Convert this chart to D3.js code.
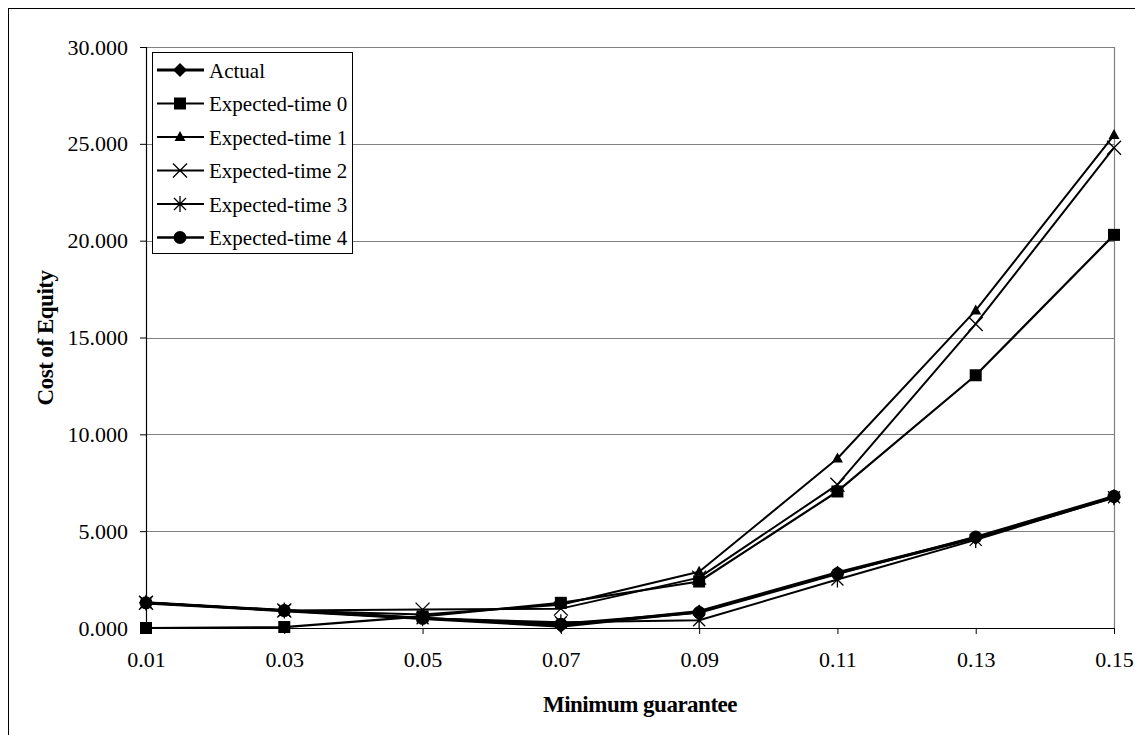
<!DOCTYPE html>
<html>
<head>
<meta charset="utf-8">
<script src="https://cdn.jsdelivr.net/npm/d3@7"></script>
<style>
  html, body { margin: 0; padding: 0; background: #fff; }
  svg { display: block; }
  text { font-family: "Liberation Serif", "Times New Roman", serif; fill: #000; }
</style>
</head>
<body>
<div id="chart"></div>
<script>
// data
var guarantees = [0.01, 0.03, 0.05, 0.07, 0.09, 0.11, 0.13, 0.15];
var xTickLabels = ["0.01", "0.03", "0.05", "0.07", "0.09", "0.11", "0.13", "0.15"];
var yTicks = [0, 5, 10, 15, 20, 25, 30];

var actual    = [1.30, 0.90, 0.50, 0.10, 0.85, 2.85, 4.65, 6.75];
var expected0 = [0.00, 0.05, 0.60, 1.30, 2.40, 7.05, 13.05, 20.30];
var expected1 = [1.30, 0.90, 0.70, 1.20, 2.90, 8.75, 16.40, 25.45];
var expected2 = [1.30, 0.90, 0.95, 1.00, 2.60, 7.40, 15.70, 24.80];
var expected3 = [1.30, 0.90, 0.50, 0.30, 0.40, 2.50, 4.55, 6.75];
var expected4 = [1.30, 0.90, 0.50, 0.20, 0.80, 2.80, 4.70, 6.80];

var seriesNames = ["Actual", "Expected-time 0", "Expected-time 1", "Expected-time 2", "Expected-time 3", "Expected-time 4"];
var seriesValues = [actual, expected0, expected1, expected2, expected3, expected4];
var seriesMarkers = ["diamond", "square", "triangle", "cross", "asterisk", "circle"];
var seriesWidths = [3.2, 2.2, 2, 2, 2, 2.6];

var W = 1135, H = 735;
var margin = {top: 47, right: 20, bottom: 107, left: 146};
var width = 1114 - margin.left, height = 628 - margin.top;

var svg = d3.select("#chart").append("svg")
  .attr("width", W).attr("height", H);

// outer chart border
svg.append("rect")
  .attr("x", 8.5).attr("y", 8.5)
  .attr("width", W + 10).attr("height", H + 10)
  .attr("fill", "none").attr("stroke", "#000").attr("stroke-width", 1);

var g = svg.append("g")
  .attr("transform", "translate(" + margin.left + "," + margin.top + ")");

var x = d3.scalePoint().domain(guarantees).range([0, width]);
var y = d3.scaleLinear().domain([0, 30]).range([height, 0]);

// gridlines
g.append("g").selectAll("line").data(yTicks.filter(function (d) { return d > 0; }))
  .enter().append("line")
  .attr("x1", 0).attr("x2", width)
  .attr("y1", function (d) { return Math.round(y(d)) + 0.5; })
  .attr("y2", function (d) { return Math.round(y(d)) + 0.5; })
  .attr("stroke", "#808080").attr("stroke-width", 1.2);

// right border of the plot area
g.append("line")
  .attr("x1", width + 0.5).attr("x2", width + 0.5)
  .attr("y1", 0).attr("y2", height)
  .attr("stroke", "#808080").attr("stroke-width", 1.2);

// axes
var yAxis = g.append("g")
  .call(d3.axisLeft(y).tickValues(yTicks).tickSize(6).tickPadding(12)
    .tickFormat(function (d) { return d3.format(".3f")(d); }));
var xAxis = g.append("g")
  .attr("transform", "translate(0," + height + ")")
  .call(d3.axisBottom(x).tickSize(6).tickPadding(17)
    .tickFormat(function (d, i) { return xTickLabels[i]; }));

[yAxis, xAxis].forEach(function (a) {
  a.select(".domain").attr("stroke", "#000").attr("stroke-width", 1.2);
  a.selectAll(".tick line").attr("stroke", "#000");
  a.selectAll(".tick text")
    .style("font-family", "'Liberation Serif', serif")
    .style("font-size", "22px").attr("fill", "#000");
});
yAxis.select(".domain").attr("d", "M-6,0.5H0.5V" + height);
xAxis.select(".domain").attr("d", "M0," + 0.5 + "H" + width);

// axis titles
svg.append("text")
  .attr("x", 640).attr("y", 712)
  .attr("text-anchor", "middle")
  .style("font-size", "23px").style("font-weight", "bold")
  .style("letter-spacing", "-0.5px")
  .text("Minimum guarantee");
svg.append("text")
  .attr("transform", "translate(53,338) rotate(-90)")
  .attr("text-anchor", "middle")
  .style("font-size", "23px").style("font-weight", "bold")
  .style("letter-spacing", "-0.5px")
  .text("Cost of Equity");

// markers
function drawMarker(sel, type) {
  if (type === "diamond") {
    sel.append("path").attr("d", "M0,-7L7,0L0,7L-7,0Z").attr("fill", "#000");
  } else if (type === "square") {
    sel.append("rect").attr("x", -6).attr("y", -6).attr("width", 12).attr("height", 12).attr("fill", "#000");
  } else if (type === "triangle") {
    sel.append("path").attr("d", "M0,-6L5.5,4L-5.5,4Z").attr("fill", "#000");
  } else if (type === "cross") {
    sel.append("path").attr("d", "M-7,-7L7,7M-7,7L7,-7").attr("stroke", "#000").attr("stroke-width", 1.3);
  } else if (type === "asterisk") {
    sel.append("path").attr("d", "M-6,-6L6,6M-6,6L6,-6M0,-8V8").attr("stroke", "#000").attr("stroke-width", 1.3);
  } else if (type === "circle") {
    sel.append("circle").attr("r", 6.5).attr("fill", "#000");
  }
}

var line = d3.line()
  .x(function (d, i) { return x(guarantees[i]); })
  .y(function (d) { return y(d); });

seriesValues.forEach(function (vals, s) {
  var sg = g.append("g");
  sg.append("path").datum(vals)
    .attr("d", line)
    .attr("fill", "none").attr("stroke", "#000")
    .attr("stroke-width", seriesWidths[s]).attr("stroke-linejoin", "round");
  sg.selectAll("g.m").data(vals).enter().append("g")
    .attr("class", "m")
    .attr("transform", function (d, i) { return "translate(" + x(guarantees[i]) + "," + y(d) + ")"; })
    .each(function () { drawMarker(d3.select(this), seriesMarkers[s]); });
});

// legend
var lg = svg.append("g").attr("transform", "translate(152,52)");
lg.append("rect")
  .attr("x", 0.5).attr("y", 0.5).attr("width", 200).attr("height", 201)
  .attr("fill", "#fff").attr("stroke", "#000").attr("stroke-width", 1);
seriesNames.forEach(function (name, s) {
  var row = lg.append("g").attr("transform", "translate(0," + (18 + s * 33.5) + ")");
  row.append("line").attr("x1", 5).attr("x2", 52).attr("y1", 0).attr("y2", 0)
    .attr("stroke", "#000").attr("stroke-width", seriesWidths[s]);
  drawMarker(row.append("g").attr("transform", "translate(28,0)"), seriesMarkers[s]);
  row.append("text").attr("x", 57).attr("y", 7.5)
    .style("font-size", "21px").text(name);
});
</script>
</body>
</html>
